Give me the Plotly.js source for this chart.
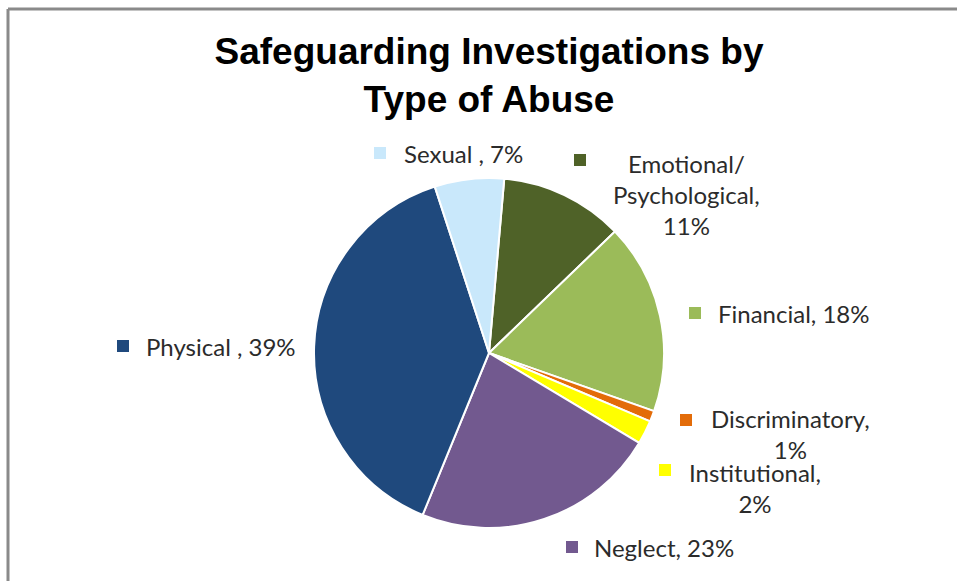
<!DOCTYPE html>
<html>
<head>
<meta charset="utf-8">
<script src="https://cdn.plot.ly/plotly-3.0.1.min.js"></script>
<style>
  html, body { margin: 0; padding: 0; background: #fff; }
  #chart { width: 957px; height: 581px; }
</style>
</head>
<body>
<div id="chart"></div>
<script>
// DATA (clockwise from just right of 12 o'clock)
let categories = ["Emotional/ Psychological", "Financial", "Discriminatory", "Institutional", "Neglect", "Physical", "Sexual"];
let shares = [11.4, 17.6, 1.0, 2.2, 22.6, 38.8, 6.4];
let labelTexts = ["Emotional/<br>Psychological,<br>11%", "Financial, 18%", "Discriminatory,<br>1%", "Institutional,<br>2%", "Neglect, 23%", "Physical , 39%", "Sexual , 7%"];
let sliceColors = ["#4F6228", "#9BBB59", "#E36C09", "#FFFF00", "#72598F", "#1F497D", "#C9E8FB"];

const W = 957, H = 581;
let px = (x) => x / W;
let py = (y) => 1 - y / H;

// label placement: [square left x, text x, y centre, anchor]
let labelPos = [
  [574, 686, 194, "center"],
  [689, 716, 313, "left"],
  [680, 790, 434, "center"],
  [659, 755, 488, "center"],
  [566, 592, 547, "left"],
  [117, 144, 346, "left"],
  [374, 402, 153, "left"],
];
// y of the first line for multi-line labels (for square)
let squareY = [160, 313, 420, 470, 547, 346, 153];

let pieData = [
  {
    type: "pie",
    labels: categories,
    values: shares,
    sort: false,
    direction: "clockwise",
    rotation: 5,
    textinfo: "none",
    hoverinfo: "label+percent",
    marker: {
      colors: sliceColors,
      line: { color: "#ffffff", width: 2 },
    },
    domain: { x: [px(314), px(664)], y: [py(528), py(178)] },
    showlegend: false,
  },
];

let labelFont = { family: "Lato, 'Open Sans', sans-serif", size: 24, color: "#2b2b2b" };

let annotations = labelTexts.map((t, i) => ({
  text: t,
  xref: "paper",
  yref: "paper",
  x: px(labelPos[i][1]),
  y: py(labelPos[i][2]),
  xanchor: labelPos[i][3],
  yanchor: "middle",
  align: "center",
  showarrow: false,
  font: labelFont,
}));

let shapes = [
  { type: "line", xref: "paper", yref: "paper", x0: px(8), x1: px(8), y0: -0.01, y1: py(9), line: { color: "#8a8a8a", width: 3 } },
  { type: "line", xref: "paper", yref: "paper", x0: px(8), x1: 1.01, y0: py(9), y1: py(9), line: { color: "#8a8a8a", width: 3 } },
];
squareY.forEach((y, i) => {
  shapes.push({
    type: "rect",
    xref: "paper",
    yref: "paper",
    x0: px(labelPos[i][0]),
    x1: px(labelPos[i][0] + 12),
    y0: py(y + 6),
    y1: py(y - 6),
    fillcolor: sliceColors[i],
    line: { width: 0 },
  });
});

let pieLayout = {
  width: W,
  height: H,
  margin: { l: 0, r: 0, t: 0, b: 0 },
  paper_bgcolor: "#ffffff",
  title: {
    text: "<b>Safeguarding Investigations by<br>Type of Abuse</b>",
    font: { family: "'Liberation Sans', Arial, sans-serif", size: 37, color: "#000000" },
    x: px(489),
    xanchor: "center",
    y: py(64),
    yanchor: "top",
  },
  annotations: annotations,
  shapes: shapes,
};

Plotly.newPlot("chart", pieData, pieLayout, { displayModeBar: false });
</script>
</body>
</html>
